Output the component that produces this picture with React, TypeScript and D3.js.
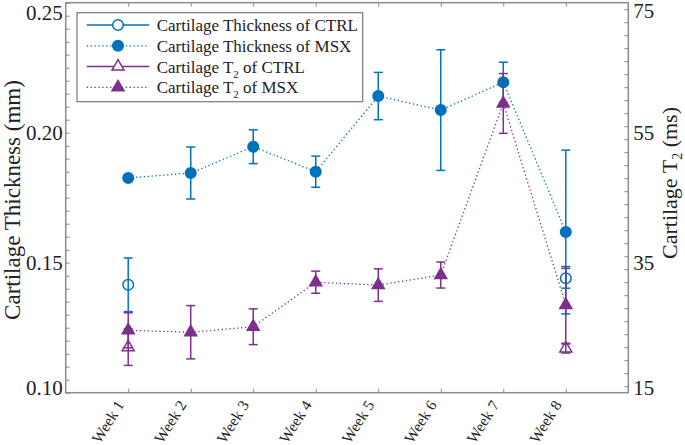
import React, { useEffect, useRef } from "react";
import * as d3 from "d3";

const weeks = ["Week 1", "Week 2", "Week 3", "Week 4", "Week 5", "Week 6", "Week 7", "Week 8"];

// cartilage thickness (mm), left axis
const thickMsx = [0.1826, 0.1845, 0.1946, 0.185, 0.2141, 0.2087, 0.2194, 0.1618];
const thickMsxErr = [0, 0.01, 0.0065, 0.006, 0.0091, 0.0232, 0.0077, 0.0315];
const thickCtrl: (number | null)[] = [0.1415, null, null, null, null, null, null, 0.144];
const thickCtrlErr = [0.0103, 0, 0, 0, 0, 0, 0, 0.0038];

// cartilage T2 (ms), right axis
const t2Msx = [24.6, 24.3, 25.15, 32.0, 31.55, 33.1, 59.5, 28.5];
const t2MsxErr = [2.7, 4.1, 2.75, 1.7, 2.5, 2.0, 4.6, 5.9];
const t2Ctrl: (number | null)[] = [22.0, null, null, null, null, null, null, 21.8];
const t2CtrlErr = [2.8, 0, 0, 0, 0, 0, 0, 0.7];

const leftTicks = [0.1, 0.15, 0.2, 0.25];
const rightTicks = [15, 35, 55, 75];

const BLUE = "#0072BD";
const PURPLE = "#7E2F8E";
const AXIS = "#8c8c8c";
const FONT = "'Liberation Serif', 'Times New Roman', serif";

export default function App() {
  const ref = useRef<SVGSVGElement>(null);

  useEffect(() => {
    const svg = d3.select(ref.current);
    svg.selectAll("*").remove();

    const left = 65.7, right = 628.3, top = 2.7, bottom = 392.7;
    const x = d3.scaleLinear().domain([0, 9]).range([left, right]);
    const yL = d3.scaleLinear().domain([0.1, 0.25]).range([bottom, top]);
    const yR = d3.scaleLinear().domain([15, 75]).range([bottom, top]);

    // frame
    svg.append("rect")
      .attr("x", left).attr("y", top)
      .attr("width", right - left).attr("height", bottom - top)
      .attr("fill", "none").attr("stroke", AXIS).attr("stroke-width", 1.5);

    const styleAxis = (g: any) => {
      g.select(".domain").remove();
      g.selectAll("line").attr("stroke", AXIS).attr("stroke-width", 1);
      g.selectAll("text").attr("font-family", FONT).attr("fill", "#222");
    };

    // left axis
    svg.append("g").attr("transform", `translate(${left},0)`)
      .call(d3.axisLeft(yL).ticks(30).tickSize(-4).tickFormat(() => ""))
      .call(styleAxis);
    const gl = svg.append("g").attr("transform", `translate(${left},0)`)
      .call(d3.axisLeft(yL).tickValues(leftTicks).tickSize(0).tickPadding(3).tickFormat(d3.format(".2f")))
      .call(styleAxis);
    gl.selectAll("text").attr("font-size", 21).attr("dy", "0.34em");
    gl.selectAll("text").filter((d: any) => d === 0.25).attr("dy", "0.78em");
    gl.selectAll("text").filter((d: any) => d === 0.1).attr("dy", "0.08em");

    // right axis
    svg.append("g").attr("transform", `translate(${right},0)`)
      .call(d3.axisRight(yR).ticks(30).tickSize(-4).tickFormat(() => ""))
      .call(styleAxis);
    const gr = svg.append("g").attr("transform", `translate(${right},0)`)
      .call(d3.axisRight(yR).tickValues(rightTicks).tickSize(0).tickPadding(5).tickFormat(d3.format("d")))
      .call(styleAxis);
    gr.selectAll("text").attr("font-size", 21).attr("dy", "0.34em");
    gr.selectAll("text").filter((d: any) => d === 75).attr("dy", "0.7em");
    gr.selectAll("text").filter((d: any) => d === 15).attr("dy", "0.08em");

    // x axes
    const xTicks = weeks.map((_, i) => i + 1);
    svg.append("g").attr("transform", `translate(0,${top})`)
      .call(d3.axisTop(x).tickValues(xTicks).tickSize(-4).tickFormat(() => ""))
      .call(styleAxis);
    const gx = svg.append("g").attr("transform", `translate(0,${bottom})`)
      .call(d3.axisBottom(x).tickValues(xTicks).tickSize(-4).tickFormat((d: any) => weeks[d - 1]))
      .call(styleAxis);
    gx.selectAll("text")
      .attr("font-size", 15.5)
      .attr("x", 0).attr("y", 0).attr("dy", 0)
      .attr("text-anchor", "end")
      .attr("transform", "translate(-4,12) rotate(-58)");

    // axis titles
    svg.append("text")
      .attr("transform", "translate(20,200) rotate(-90)")
      .attr("text-anchor", "middle")
      .attr("font-family", FONT).attr("font-size", 23).attr("fill", "#222")
      .text("Cartilage Thickness (mm)");
    const rt = svg.append("text")
      .attr("transform", "translate(677,183) rotate(-90)")
      .attr("text-anchor", "middle")
      .attr("font-family", FONT).attr("font-size", 22).attr("fill", "#222");
    rt.append("tspan").text("Cartilage T");
    rt.append("tspan").attr("font-size", 14).attr("dy", 5).text("2");
    rt.append("tspan").attr("dy", -5).text(" (ms)");

    const circle = d3.symbol().type(d3.symbolCircle).size(88);
    const tri = d3.symbol().type(d3.symbolTriangle).size(62);

    const drawSeries = (
      vals: (number | null)[], errs: number[], y: d3.ScaleLinear<number, number>,
      color: string, shape: any, filled: boolean, dotted: boolean
    ) => {
      const g = svg.append("g");
      if (dotted) {
        const line = d3.line<number | null>()
          .defined((d) => d !== null)
          .x((_, i) => x(i + 1))
          .y((d) => y(d as number));
        g.append("path").datum(vals).attr("d", line)
          .attr("fill", "none").attr("stroke", color)
          .attr("stroke-width", 1.3).attr("stroke-dasharray", "1.3 2.6");
      }
      vals.forEach((v, i) => {
        if (v === null) return;
        const cx = x(i + 1);
        const e = errs[i];
        if (e > 0) {
          const y0 = y(v - e), y1 = y(v + e);
          g.append("line").attr("x1", cx).attr("x2", cx).attr("y1", y0).attr("y2", y1)
            .attr("stroke", color).attr("stroke-width", 1.5);
          [y0, y1].forEach((yy) => {
            g.append("line").attr("x1", cx - 4.5).attr("x2", cx + 4.5).attr("y1", yy).attr("y2", yy)
              .attr("stroke", color).attr("stroke-width", 1.5);
          });
        }
      });
      vals.forEach((v, i) => {
        if (v === null) return;
        g.append("path").attr("d", shape())
          .attr("transform", `translate(${x(i + 1)},${y(v)})`)
          .attr("fill", filled ? color : "none")
          .attr("stroke", color).attr("stroke-width", 1.5);
      });
    };

    drawSeries(thickCtrl, thickCtrlErr, yL, BLUE, circle, false, false);
    drawSeries(thickMsx, thickMsxErr, yL, BLUE, circle, true, true);
    drawSeries(t2Ctrl, t2CtrlErr, yR, PURPLE, tri, false, false);
    drawSeries(t2Msx, t2MsxErr, yR, PURPLE, tri, true, true);

    // legend
    const leg = svg.append("g");
    leg.append("rect").attr("x", 77).attr("y", 12.7).attr("width", 285.7).attr("height", 89)
      .attr("fill", "#fff").attr("stroke", "#7a7a7a").attr("stroke-width", 1.2);
    const entries = [
      { color: BLUE, shape: circle, filled: false, dotted: false, main: "Cartilage Thickness of CTRL", sub: "", rest: "" },
      { color: BLUE, shape: circle, filled: true, dotted: true, main: "Cartilage Thickness of MSX", sub: "", rest: "" },
      { color: PURPLE, shape: tri, filled: false, dotted: false, main: "Cartilage T", sub: "2", rest: " of CTRL" },
      { color: PURPLE, shape: tri, filled: true, dotted: true, main: "Cartilage T", sub: "2", rest: " of MSX" },
    ];
    entries.forEach((en, i) => {
      const ry = 25 + i * 20.8;
      leg.append("line").attr("x1", 86.7).attr("x2", 149.3).attr("y1", ry).attr("y2", ry)
        .attr("stroke", en.color).attr("stroke-width", en.dotted ? 1.3 : 1.5)
        .attr("stroke-dasharray", en.dotted ? "1.3 2.6" : null);
      leg.append("path").attr("d", en.shape()).attr("transform", `translate(118,${ry})`)
        .attr("fill", en.filled ? en.color : "#fff").attr("stroke", en.color).attr("stroke-width", 1.5);
      const t = leg.append("text").attr("x", 156.7).attr("y", ry + 6)
        .attr("font-family", FONT).attr("font-size", 17).attr("fill", "#222");
      t.append("tspan").text(en.main);
      if (en.sub) {
        t.append("tspan").attr("font-size", 11).attr("dy", 5).text(en.sub);
        t.append("tspan").attr("dy", -5).text(en.rest);
      }
    });
  }, []);

  return (
    <svg ref={ref} width={685} height={445}
      style={{ position: "absolute", left: 0, top: 0, background: "#fff" }} />
  );
}
